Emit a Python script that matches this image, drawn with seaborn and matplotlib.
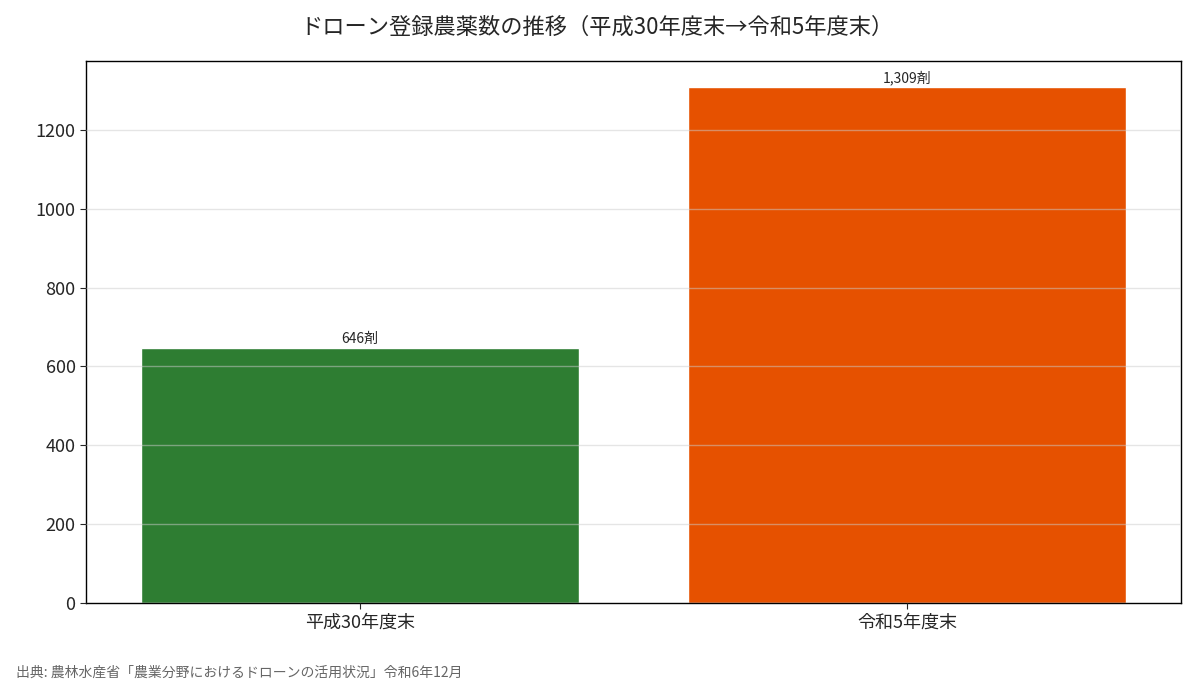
import matplotlib
matplotlib.use("Agg")
import matplotlib.pyplot as plt
import seaborn as sns
import pandas as pd

categories = ["平成30年度末", "令和5年度末"]
values = [646, 1309]
labels = ["646剤", "1,309剤"]
colors = ["#2e7d32", "#e65100"]

sns.set_style("white")
plt.rcParams['font.family'] = ['Noto Sans CJK JP', 'DejaVu Sans']

fig = plt.figure(figsize=(11.95, 6.98), dpi=100)
ax = fig.add_axes([86/1195, 1-603/698, (1181-86)/1195, (603-61)/698])
df = pd.DataFrame({"cat": categories, "val": values})
sns.barplot(data=df, x="cat", y="val", hue="cat", palette=colors, legend=False, ax=ax, width=0.8, saturation=1)
ax.set_ylim(0, 1375)
ax.set_xlim(-0.5, 1.5)
ax.set_axisbelow(False)
ax.yaxis.grid(True, color="#cccccc", alpha=0.5, linewidth=1)
for i, (v, l) in enumerate(zip(values, labels)):
    ax.text(i, v + 5, l, ha="center", va="bottom", fontsize=10)
ax.set_xlabel("")
ax.set_ylabel("")
ax.tick_params(axis="both", labelsize=13, length=4, left=True, bottom=True)
for s in ax.spines.values():
    s.set_color("black")
    s.set_linewidth(1)
fig.text(0.5, 1-27/698, "ドローン登録農薬数の推移（平成30年度末→令和5年度末）", ha="center", va="center", fontsize=16)
fig.text(16/1195, 1-673/698, "出典: 農林水産省「農業分野におけるドローンの活用状況」令和6年12月", ha="left", va="center", fontsize=10, color="#666666")
fig.savefig("out.png", dpi=100)
